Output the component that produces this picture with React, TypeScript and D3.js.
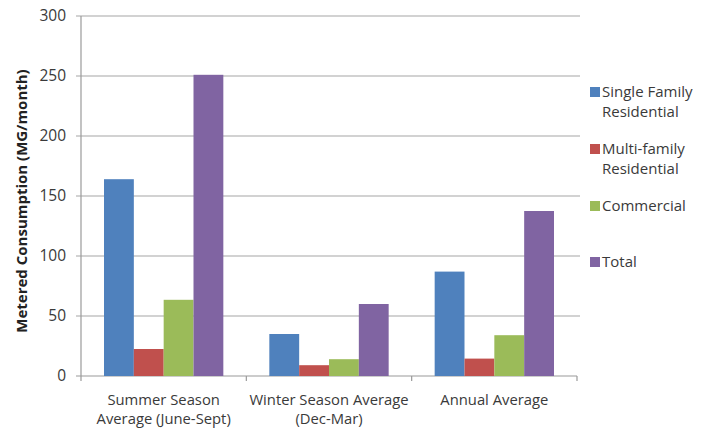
import React from "react";
import * as d3 from "d3";

const categories = [
  ["Summer Season", "Average (June-Sept)"],
  ["Winter Season Average", "(Dec-Mar)"],
  ["Annual Average"],
];
const seriesNames = [
  ["Single Family", "Residential"],
  ["Multi-family", "Residential"],
  ["Commercial"],
  ["Total"],
];
const singleFamily = [164, 35, 87];
const multiFamily = [22.5, 9, 14.5];
const commercial = [63.5, 14, 34];
const total = [251, 60, 137.5];
const yTicks = [0, 50, 100, 150, 200, 250, 300];
const colors = ["#4f81bd", "#c0504d", "#9bbb59", "#8064a2"];

export default function App() {
  const W = 709, H = 429;
  const left = 81, right = 577, top = 16, bottom = 376;
  const y = d3.scaleLinear().domain([0, 300]).range([bottom, top]);
  const x0 = d3.scaleBand().domain(["0", "1", "2"]).range([left, right]).paddingInner(0).paddingOuter(0);
  const bw = x0.bandwidth();
  const inset = 23;
  const x1 = d3.scaleBand().domain(["0", "1", "2", "3"]).range([inset, bw - inset]).paddingInner(0).paddingOuter(0);
  const series = [singleFamily, multiFamily, commercial, total];
  const font = "'Open Sans', 'DejaVu Sans', sans-serif";
  const legendY = [92, 149, 206, 262];
  return (
    <svg width={W} height={H} style={{ position: "absolute", left: 0, top: 0, background: "#fff" }} fontFamily={font}>
      {yTicks.map((t) => (
        <g key={t}>
          <line x1={left - 5} x2={t === 0 ? right : 580} y1={y(t)} y2={y(t)} stroke={t === 0 ? "#9a9a9a" : "#a6a6a6"} strokeWidth={1.2} />
          <text x={66} y={y(t)} dy="0.35em" textAnchor="end" fontSize={15.5} fill="#3a3a3a">{t}</text>
        </g>
      ))}
      <line x1={left} x2={left} y1={top} y2={bottom} stroke="#9a9a9a" strokeWidth={1.2} />
      {[0, 1, 2, 3].map((i) => {
        const xx = left + i * bw;
        return <line key={i} x1={xx} x2={xx} y1={bottom} y2={bottom + 5} stroke="#9a9a9a" strokeWidth={1.2} />;
      })}
      {series.map((vals, si) =>
        vals.map((v, ci) => (
          <rect
            key={`${si}-${ci}`}
            x={(x0(String(ci)) as number) + (x1(String(si)) as number)}
            y={y(v)}
            width={x1.bandwidth()}
            height={bottom - y(v)}
            fill={colors[si]}
          />
        ))
      )}
      {categories.map((lines, ci) => (
        <text key={ci} textAnchor="middle" fontSize={14.8} fill="#3a3a3a">
          {lines.map((l, li) => (
            <tspan key={li} x={(x0(String(ci)) as number) + bw / 2} y={405 + li * 19}>{l}</tspan>
          ))}
        </text>
      ))}
      <text transform={`translate(27,201) rotate(-90)`} textAnchor="middle" fontSize={15} fontWeight="bold" fill="#222">
        Metered Consumption (MG/month)
      </text>
      {seriesNames.map((lines, si) => (
        <g key={si}>
          <rect x={590} y={legendY[si] - 5} width={10} height={10} fill={colors[si]} />
          <text fontSize={15} fill="#3a3a3a">
            {lines.map((l, li) => (
              <tspan key={li} x={602} y={legendY[si] + 5 + li * 20}>{l}</tspan>
            ))}
          </text>
        </g>
      ))}
    </svg>
  );
}
